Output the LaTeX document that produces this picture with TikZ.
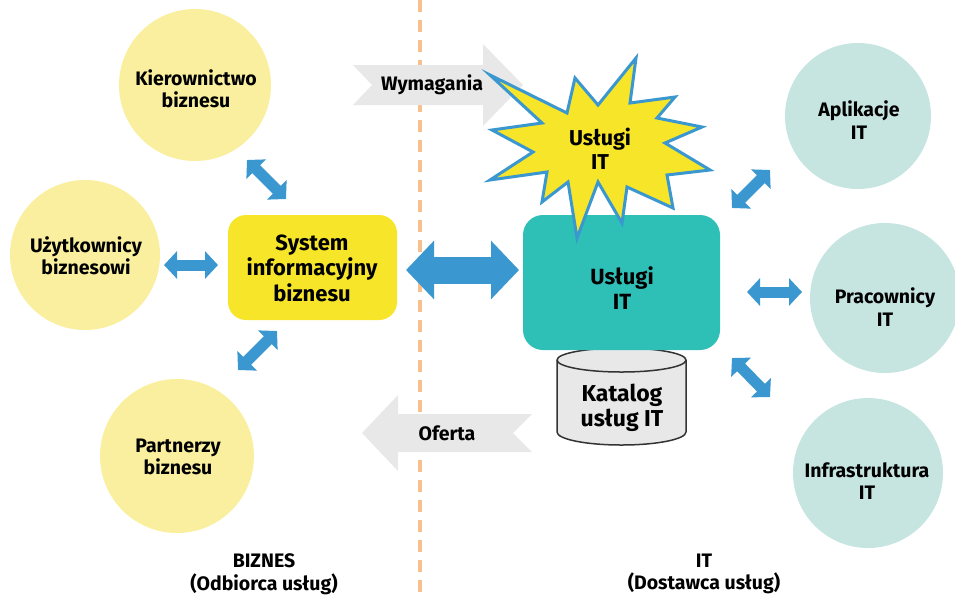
\documentclass[tikz,border=0pt]{standalone}
\usepackage{fontspec}
\setmainfont{Fira Sans}
\usetikzlibrary{arrows.meta}

\definecolor{bizcircle}{HTML}{F9EF9E}
\definecolor{itcircle}{HTML}{C6E5E1}
\definecolor{sysyellow}{HTML}{F7E52A}
\definecolor{itteal}{HTML}{2EBFB7}
\definecolor{linkblue}{HTML}{3A97CF}
\definecolor{flowgray}{HTML}{E8E8E8}
\definecolor{divider}{HTML}{F7C08D}
\definecolor{dbedge}{HTML}{333333}

\tikzset{
  lbl/.style={font=\bfseries\fontsize{19.5}{22.5}\selectfont, align=center, text=black, inner sep=0pt},
  biglbl/.style={lbl, font=\bfseries\fontsize{22}{25.5}\selectfont},
  bizpart/.style={circle, fill=bizcircle, inner sep=0pt},
  itpart/.style={circle, fill=itcircle, inner sep=0pt},
  link/.style={draw=linkblue, line width=11pt,
    {Triangle[length=13pt,width=27pt]}-{Triangle[length=13pt,width=27pt]}},
  biglink/.style={draw=linkblue, line width=27pt,
    {Triangle[length=28pt,width=57pt]}-{Triangle[length=28pt,width=57pt]}},
  flow/.style={fill=flowgray},
}

\begin{document}
\begin{tikzpicture}[x=1pt,y=-1pt]
\useasboundingbox (0,0) rectangle (955,595);

% business / IT divider
\draw[divider, line width=3.5pt, dash pattern=on 12pt off 8pt] (420,0) -- (420,595);

% flow arrows: requirements and offer
\fill[flow] (353,65) -- (372,85) -- (353,105) -- (483,105) -- (483,126)
  -- (523,85) -- (483,44) -- (483,65) -- cycle;
\node[lbl] (wym) at (432,85) {Wymagania};
\fill[flow] (362,433) -- (398,395) -- (398,414) -- (532,414) -- (513,433)
  -- (532,452) -- (398,452) -- (398,471) -- cycle;
\node[lbl] (ofe) at (447,433) {Oferta};

% business side
\node[bizpart, minimum size=152pt] (kier) at (195,85) {};
\node[lbl] (kiertxt) at (196,89) {Kierownictwo\\biznesu};
\node[bizpart, minimum size=150pt] (uzyt) at (85,255) {};
\node[lbl] (uzyttxt) at (86,256) {Użytkownicy\\biznesowi};
\node[bizpart, minimum size=154pt] (part) at (177,456) {};
\node[lbl] (parttxt) at (178,457) {Partnerzy\\biznesu};
\node[fill=sysyellow, rounded corners=18pt, minimum width=169pt, minimum height=105pt]
  (sys) at (312.5,267.5) {};
\node[biglbl] (systxt) at (312,268) {System\\informacyjny\\biznesu};

% IT side
\node[itpart, minimum size=146pt] (apl) at (858,116) {};
\node[lbl] (apltxt) at (859,120) {Aplikacje\\IT};
\node[itpart, minimum size=150pt] (prac) at (885,298) {};
\node[lbl] (practxt) at (885,307) {Pracownicy\\IT};
\node[itpart, minimum size=150pt] (infra) at (868,473) {};
\node[lbl] (infratxt) at (867,481) {Infrastruktura\\IT};

% service catalogue (cylinder)
\filldraw[fill=flowgray, draw=dbedge, line width=1.5pt]
  (557,360) -- (557,432) arc[start angle=180, end angle=360, x radius=64.5pt, y radius=13pt]
  -- (686,360) arc[start angle=0, end angle=180, x radius=64.5pt, y radius=12pt] -- cycle;
\draw[dbedge, line width=1.5pt] (557,360) arc[start angle=180, end angle=360, x radius=64.5pt, y radius=12pt];
\node[biglbl, font=\bfseries\fontsize{23}{24.5}\selectfont] (kat) at (622,408) {Katalog\\usług IT};

\node[fill=itteal, rounded corners=20pt, minimum width=197pt, minimum height=135pt]
  (usl) at (621.5,282.5) {};
\node[biglbl] (usltxt) at (622,288) {Usługi\\IT};

% starburst
\filldraw[fill=sysyellow, draw=linkblue, line width=3pt, line join=miter]
  (490,75) -- (567,113) -- (575,78) -- (598,105) -- (636,58) -- (630,103)
  -- (675,97) -- (657,118) -- (702,127) -- (665,143) -- (710,170) -- (667,175)
  -- (673,208) -- (627,187) -- (622,223) -- (598,182) -- (577,238) -- (568,182)
  -- (542,202) -- (547,172) -- (490,180) -- (533,152) -- (492,130) -- (542,123) -- cycle;
\node[lbl, font=\bfseries\fontsize{21.5}{24}\selectfont] (star) at (600,149) {Usługi\\IT};

% link end points
\coordinate (k1) at (247,160); \coordinate (k2) at (286,199);
\coordinate (u1) at (164,265); \coordinate (u2) at (218,265);
\coordinate (p1) at (277,331); \coordinate (p2) at (238,370);
\coordinate (s1) at (406,270); \coordinate (s2) at (519,270);
\coordinate (a1) at (732,208); \coordinate (a2) at (770,170);
\coordinate (r1) at (747,292); \coordinate (r2) at (802,292);
\coordinate (i1) at (732,358); \coordinate (i2) at (770,397);

\draw[link] (k1) -- (k2);
\draw[link] (u1) -- (u2);
\draw[link] (p1) -- (p2);
\draw[biglink] (s1) -- (s2);
\draw[link] (a1) -- (a2);
\draw[link] (r1) -- (r2);
\draw[link] (i1) -- (i2);

% side captions
\node[lbl] (biz) at (264,574) {BIZNES\\(Odbiorca usług)};
\node[lbl] (it) at (704,574) {IT\\(Dostawca usług)};
\end{tikzpicture}
\end{document}
